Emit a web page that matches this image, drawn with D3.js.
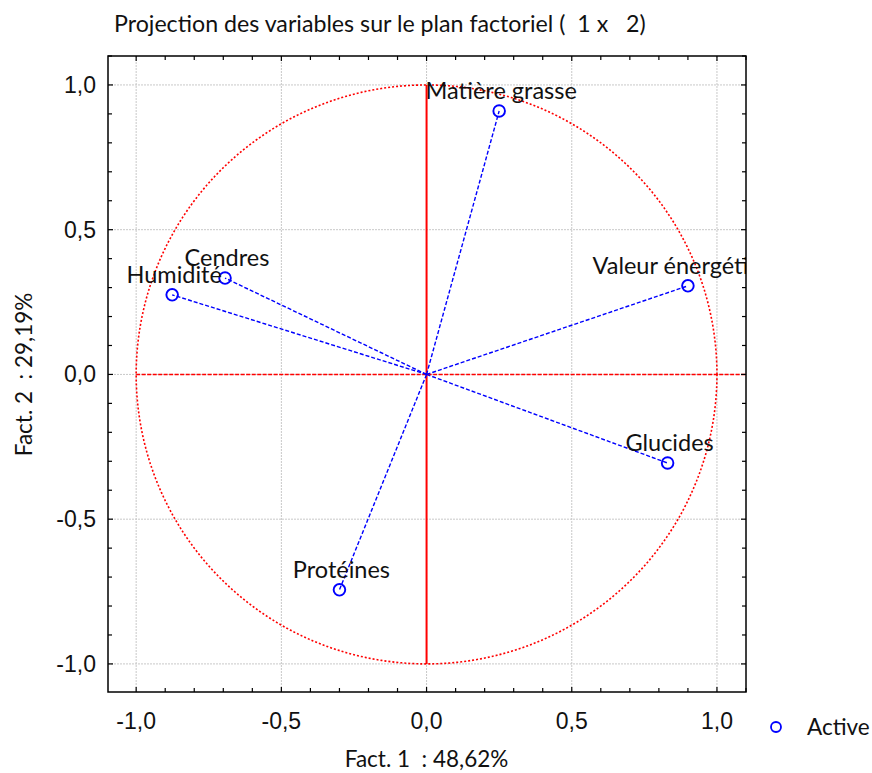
<!DOCTYPE html>
<html>
<head>
<meta charset="utf-8">
<script src="https://cdn.jsdelivr.net/npm/d3@7"></script>
<style>
  body { margin: 0; background: #fff; }
  svg { display: block; }
</style>
</head>
<body>
<div id="chart"></div>
<script>
// variables projected on factor plane 1 x 2
var variables = ['Matière grasse', 'Valeur énergétique', 'Glucides', 'Protéines', 'Humidité', 'Cendres'];
var fact1 = [0.25, 0.90, 0.83, -0.30, -0.876, -0.694];
var fact2 = [0.91, 0.306, -0.306, -0.744, 0.275, 0.333];
var majorTicks = [-1.0, -0.5, 0.0, 0.5, 1.0];
var minorTicks = d3.range(-11, 12).map(function(i) { return i / 10; });

var width = 872, height = 773;
var pL = 108, pR = 746, pT = 56, pB = 692;
var textFont = 'Lato, Open Sans, sans-serif';

var svg = d3.select('#chart').append('svg')
  .attr('width', width)
  .attr('height', height);

var x = d3.scaleLinear().domain([-1.097, 1.1]).range([pL, pR]);
var y = d3.scaleLinear().domain([-1.097, 1.1]).range([pB, pT]);
var fmt = function(d) { return d3.format('.1f')(d).replace('.', ',').replace('−', '-'); };

svg.append('text')
  .attr('x', 114).attr('y', 32)
  .attr('font-family', textFont)
  .attr('font-size', 23.2)
  .attr('fill', '#111')
  .attr('xml:space', 'preserve')
  .text('Projection des variables sur le plan factoriel (  1 x   2)');

svg.append('defs').append('clipPath').attr('id', 'plotclip')
  .append('rect').attr('x', pL).attr('y', pT).attr('width', pR - pL).attr('height', pB - pT);

var plot = svg.append('g').attr('clip-path', 'url(#plotclip)');

// grid
plot.selectAll('.gx').data(majorTicks).enter().append('line')
  .attr('x1', function(d) { return x(d); }).attr('x2', function(d) { return x(d); })
  .attr('y1', pT).attr('y2', pB)
  .attr('stroke', '#c8c8c8').attr('stroke-width', 1).attr('stroke-dasharray', '2,1');
plot.selectAll('.gy').data(majorTicks).enter().append('line')
  .attr('y1', function(d) { return y(d); }).attr('y2', function(d) { return y(d); })
  .attr('x1', pL).attr('x2', pR)
  .attr('stroke', '#c8c8c8').attr('stroke-width', 1).attr('stroke-dasharray', '2,1');

// unit circle
var circ = d3.range(0, 361, 1).map(function(a) {
  return [Math.cos(a * Math.PI / 180), Math.sin(a * Math.PI / 180)];
});
plot.append('path')
  .attr('d', d3.line().x(function(d) { return x(d[0]); }).y(function(d) { return y(d[1]); })(circ))
  .attr('fill', 'none').attr('stroke', '#ff0000').attr('stroke-width', 1.6)
  .attr('stroke-dasharray', '2,2');

// red axes
plot.append('line')
  .attr('x1', x(-1)).attr('x2', pR)
  .attr('y1', y(0)).attr('y2', y(0))
  .attr('stroke', '#ff0000').attr('stroke-width', 1.6).attr('stroke-dasharray', '4,1.5');
plot.append('line')
  .attr('x1', x(0)).attr('x2', x(0))
  .attr('y1', y(1)).attr('y2', y(-1))
  .attr('stroke', '#ff0000').attr('stroke-width', 2);

// vectors
var pts = variables.map(function(v, i) { return { name: v, a: fact1[i], b: fact2[i] }; });
plot.selectAll('.vec').data(pts).enter().append('line')
  .attr('x1', x(0)).attr('y1', y(0))
  .attr('x2', function(d) { return x(d.a); })
  .attr('y2', function(d) { return y(d.b); })
  .attr('stroke', '#0000ff').attr('stroke-width', 1.4).attr('stroke-dasharray', '4,2');
plot.selectAll('.pt').data(pts).enter().append('circle')
  .attr('cx', function(d) { return x(d.a); })
  .attr('cy', function(d) { return y(d.b); })
  .attr('r', 5.8)
  .attr('fill', 'none').attr('stroke', '#0000ff').attr('stroke-width', 1.9);
plot.selectAll('.lbl').data(pts).enter().append('text')
  .attr('x', function(d) { return x(d.a) + 2; })
  .attr('y', function(d) { return y(d.b) - 12; })
  .attr('text-anchor', 'middle')
  .attr('font-family', textFont)
  .attr('font-size', 23.5)
  .attr('fill', '#111')
  .text(function(d) { return d.name; });

// frame
svg.append('rect')
  .attr('x', pL).attr('y', pT).attr('width', pR - pL).attr('height', pB - pT)
  .attr('fill', 'none').attr('stroke', '#000').attr('stroke-width', 1.5);

// inward ticks on all four sides
var tickLen = function(d) { return Math.abs(d * 2 - Math.round(d * 2)) < 1e-6 ? 5 : 4; };
var tk = svg.append('g').attr('stroke', '#000').attr('stroke-width', 1.2);
minorTicks.forEach(function(d) {
  var px = x(d), py = y(d), l = tickLen(d);
  if (px >= pL && px <= pR) {
    tk.append('line').attr('x1', px).attr('x2', px).attr('y1', pB).attr('y2', pB - l);
    tk.append('line').attr('x1', px).attr('x2', px).attr('y1', pT).attr('y2', pT + l);
  }
  if (py >= pT && py <= pB) {
    tk.append('line').attr('y1', py).attr('y2', py).attr('x1', pL).attr('x2', pL + l);
    tk.append('line').attr('y1', py).attr('y2', py).attr('x1', pR).attr('x2', pR - l);
  }
});

// tick labels
svg.selectAll('.xl').data(majorTicks).enter().append('text')
  .attr('x', function(d) { return x(d); }).attr('y', 729)
  .attr('text-anchor', 'middle')
  .attr('font-family', 'Liberation Sans, Arial, sans-serif')
  .attr('font-size', 23).attr('fill', '#111')
  .text(fmt);
svg.selectAll('.yl').data(majorTicks).enter().append('text')
  .attr('x', 96).attr('y', function(d) { return y(d) + 8; })
  .attr('text-anchor', 'end')
  .attr('font-family', 'Liberation Sans, Arial, sans-serif')
  .attr('font-size', 23).attr('fill', '#111')
  .text(fmt);

// axis titles
svg.append('text')
  .attr('x', x(0)).attr('y', 767)
  .attr('text-anchor', 'middle')
  .attr('font-family', textFont)
  .attr('font-size', 22.5).attr('fill', '#111')
  .attr('xml:space', 'preserve')
  .text('Fact. 1  : 48,62%');
svg.append('text')
  .attr('transform', 'translate(32,' + y(0) + ') rotate(-90)')
  .attr('text-anchor', 'middle')
  .attr('font-family', textFont)
  .attr('font-size', 22.5).attr('fill', '#111')
  .attr('xml:space', 'preserve')
  .text('Fact. 2  : 29,19%');

// legend
svg.append('circle')
  .attr('cx', 776).attr('cy', 727).attr('r', 5)
  .attr('fill', 'none').attr('stroke', '#0000ff').attr('stroke-width', 1.8);
svg.append('text')
  .attr('x', 807).attr('y', 735)
  .attr('font-family', textFont)
  .attr('font-size', 22.5).attr('fill', '#111')
  .text('Active');
</script>
</body>
</html>
